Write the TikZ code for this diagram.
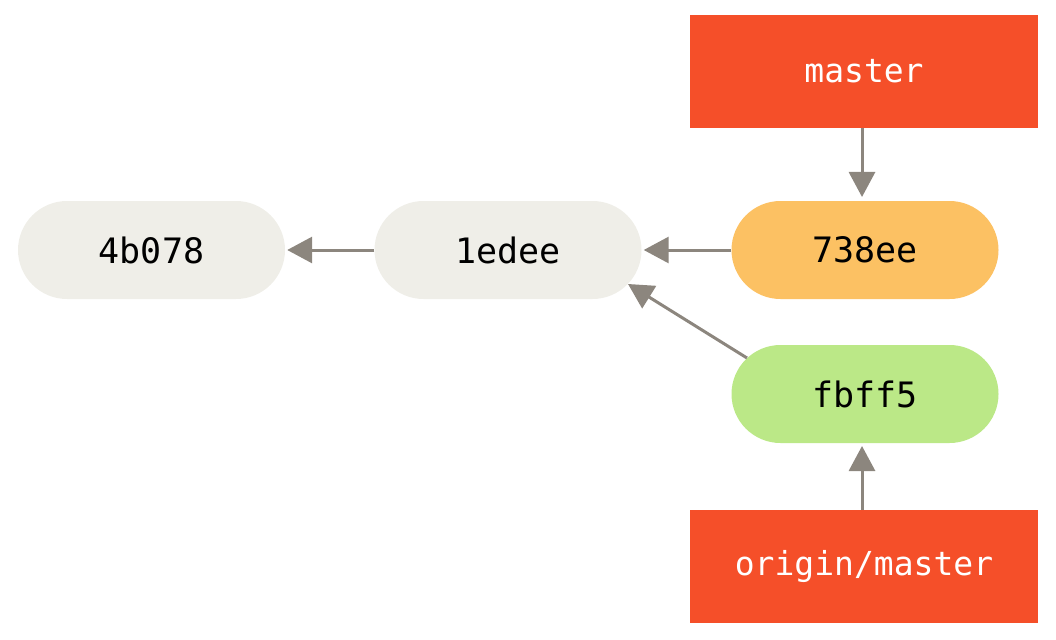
\documentclass[tikz,border=0pt]{standalone}
\usepackage{fontspec}
\setmonofont{DejaVu Sans Mono}
\usetikzlibrary{arrows.meta}
\definecolor{commitgray}{HTML}{EFEEE8}
\definecolor{commitorange}{HTML}{FCC163}
\definecolor{commitgreen}{HTML}{BBE887}
\definecolor{branchred}{HTML}{F54F29}
\definecolor{arrowgray}{HTML}{8C867E}
\begin{document}
\begin{tikzpicture}[x=1pt,y=-1pt,
  commit/.style={rounded corners=49pt,minimum width=267pt,minimum height=98pt,inner sep=0pt,
    font=\ttfamily\fontsize{35}{40}\selectfont,text=black},
  branch/.style={fill=branchred,minimum width=348pt,minimum height=113pt,inner sep=0pt,
    font=\ttfamily\fontsize{33}{40}\selectfont,text=white},
  link/.style={draw=arrowgray,line width=3pt,-{Triangle[length=25pt,width=26pt]}}]
\useasboundingbox (0,0) rectangle (1056,639);
\node[commit,fill=commitgray] (c1) at (151.5,250) {4b078};
\node[commit,fill=commitgray] (c2) at (508,250) {1edee};
\node[commit,fill=commitorange] (c3) at (865,250) {738ee};
\node[commit,fill=commitgreen] (c4) at (865,394) {fbff5};
\node[branch] (m) at (864,71.5) {master};
\node[branch] (om) at (864,566.5) {origin/master};
\draw[link] (m.south -| 862,0) -- (862,197);
\draw[link] (c3.west) -- ([xshift=2pt]c2.east);
\draw[link] (c2.west) -- ([xshift=2pt]c1.east);
\coordinate (a) at (747,358);
\coordinate (b) at (628,284);
\draw[link] (a) -- (b);
\draw[link] (om.north -| 862,0) -- (862,446);
\end{tikzpicture}
\end{document}
